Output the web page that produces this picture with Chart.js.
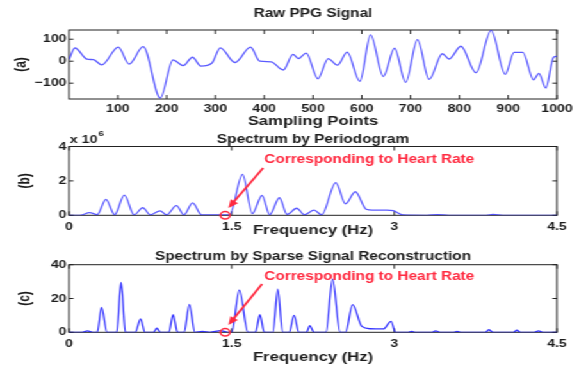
<!DOCTYPE html>
<html lang="en">
<head>
  <meta charset="UTF-8" />
  <title>Raw PPG Signal and Spectra</title>
  <script src="https://cdn.jsdelivr.net/npm/chart.js@4"></script>
  <style>
    body { margin: 0; background: #fff; }
    /* the figure is wider than it is tall-scaled, so draw narrow and stretch */
    #wrap { position: relative; width: 452px; height: 386px; transform: scaleX(1.281); transform-origin: 0 0; }
    #wrap canvas { position: absolute; left: 0; top: 0; }
  </style>
</head>
<body>
  <div id="wrap">
    <canvas id="ppgChart" width="452" height="386"></canvas>
    <canvas id="pgramChart" width="452" height="386"></canvas>
    <canvas id="sparseChart" width="452" height="386"></canvas>
  </div>

  <script>
    // (a) raw PPG signal, turning points
    const ppgIdx = [0, 12, 37, 50, 67, 101, 123, 152, 187, 213, 234, 253, 270, 293, 310, 340, 372, 391, 414, 439,
                    459, 470, 486, 510, 531, 550, 570, 596, 618, 644, 667, 690, 714, 738, 765, 779, 803, 834, 865, 894,
                    912, 930, 952, 963, 977, 993, 1000];
    const ppgVal = [8, 60, 9, 7, -17, 64, -13, 66, -168, 6, -20, 18, -22, -8, 61, -6, 64, 0, -3, -40,
                    31, 12, 37, -80, 12, -18, 41, -92, 120, -70, 59, -96, 98, -83, 34, 10, 68, -52, 140, -60,
                    40, 40, -85, -55, -122, 18, 22];
    const ppgXTicks = [100, 200, 300, 400, 500, 600, 700, 800, 900, 1000];
    const ppgYTicks = [-100, 0, 100];

    // (b) periodogram, in units of 10^6
    const pgramFreq = [0, 0.10, 0.19, 0.26, 0.34, 0.42, 0.51, 0.60, 0.68, 0.75, 0.84, 0.90, 0.99, 1.06, 1.14, 1.22,
                       1.37, 1.48, 1.60, 1.69, 1.78, 1.85, 1.94, 2.01, 2.10, 2.17, 2.26, 2.33, 2.46, 2.55, 2.64,
                       2.74, 2.80, 2.93, 2.99, 3.08, 3.30, 3.40, 3.50, 3.85, 3.91, 4.00, 4.50];
    const pgramPow = [0, 0, 0.15, 0.04, 0.93, 0.03, 1.17, 0.03, 0.44, 0.03, 0.26, 0.03, 0.56, 0.03, 0.72, 0.03,
                      0.02, 0.02, 2.38, 0.10, 1.15, 0.03, 1.02, 0.05, 0.41, 0.03, 0.30, 0.03, 1.90, 0.66, 1.37,
                      0.35, 0.30, 0.30, 0.27, 0.02, 0, 0.04, 0, 0, 0.05, 0, 0];
    const pgramYTicks = [0, 2, 4];

    // (c) sparse signal reconstruction
    const sparseFreq = [0, 0.12, 0.17, 0.22, 0.26, 0.30, 0.35, 0.44, 0.48, 0.52, 0.61, 0.66, 0.70, 0.78, 0.81, 0.84,
                        0.92, 0.96, 1.00, 1.06, 1.11, 1.16, 1.23, 1.30, 1.40, 1.46, 1.50, 1.57, 1.65, 1.72, 1.76,
                        1.80, 1.88, 1.925, 1.97, 2.03, 2.075, 2.12, 2.19, 2.22, 2.26, 2.37, 2.43, 2.50, 2.55, 2.615,
                        2.70, 2.78, 2.90, 2.97, 3.01, 3.13, 3.16, 3.19, 3.35, 3.38, 3.42, 3.55, 3.58, 3.61, 3.84,
                        3.87, 3.91, 4.10, 4.13, 4.16, 4.29, 4.33, 4.37, 4.50];
    const sparseAmp = [0, 0, 0.8, 0, 0, 14.8, 0, 0, 29.5, 0, 0, 8, 0, 0, 2.4, 0,
                       0, 10.5, 0, 0, 16.5, 0, 0.6, 0, 1, 0, 0, 25, 0, 0, 10.5,
                       0, 0, 25.5, 0, 0, 10, 0, 0, 4, 0, 0, 31.5, 0, 0, 16.4,
                       3.5, 2.1, 2, 6.5, 0, 0, 0.5, 0, 0, 0.9, 0, 0, 0.6, 0, 0,
                       1.5, 0, 0, 1.2, 0, 0, 0.8, 0, 0];
    const sparseYTicks = [0, 20, 40];

    const freqTicks = [0, 1.5, 3, 4.5];

    // heart-rate marker and its callouts (data units of each panel)
    const hrFreq = 1.44;
    const hrLabel = 'Corresponding to Heart Rate';
    const pgramNote = { from: [1.79, 2.75], to: [1.47, 0.42], text: [1.80, 3.21] };
    const sparseNote = { from: [1.78, 28.6], to: [1.47, 4.3], text: [1.80, 32.9] };

    const ink = '#1c1c1c';
    const red = '#ff2a40';
    Chart.defaults.font.family = '"Liberation Sans", Arial, sans-serif';

    const boxPlugin = {
      id: 'matlabBox',
      beforeDatasetsDraw(chart) {
        const { ctx, chartArea: a, scales: { x, y } } = chart;
        ctx.save();
        ctx.strokeStyle = '#222';
        ctx.lineWidth = 1;
        ctx.strokeRect(a.left, a.top, a.width, a.height);
        ctx.beginPath();
        x.ticks.forEach(t => {
          const px = x.getPixelForValue(t.value);
          ctx.moveTo(px, a.bottom); ctx.lineTo(px, a.bottom - 4);
          ctx.moveTo(px, a.top); ctx.lineTo(px, a.top + 4);
        });
        y.ticks.forEach(t => {
          const py = y.getPixelForValue(t.value);
          ctx.moveTo(a.left, py); ctx.lineTo(a.left + 3.5, py);
          ctx.moveTo(a.right, py); ctx.lineTo(a.right - 3.5, py);
        });
        ctx.stroke();
        ctx.restore();
      }
    };

    function notePlugin(note, exponent) {
      return {
        id: 'hrNote',
        afterDatasetsDraw(chart) {
          const { ctx, chartArea: a, scales: { x, y } } = chart;
          ctx.save();
          if (exponent) {
            ctx.fillStyle = ink;
            ctx.textBaseline = 'middle';
            ctx.font = 'bold 11px "Liberation Sans", Arial, sans-serif';
            ctx.fillText('x 10', a.left + 0.7, a.top - 6.5);
            const w = ctx.measureText('x 10').width;
            ctx.font = 'bold 8px "Liberation Sans", Arial, sans-serif';
            ctx.fillText(exponent, a.left + 1.5 + w, a.top - 13);
          }
          if (note) {
            ctx.strokeStyle = red;
            ctx.fillStyle = red;
            ctx.lineWidth = 1.5;
            ctx.beginPath();
            ctx.arc(x.getPixelForValue(hrFreq), y.getPixelForValue(0), 3.7, 0, Math.PI * 2);
            ctx.stroke();

            const x0 = x.getPixelForValue(note.from[0]), y0 = y.getPixelForValue(note.from[1]);
            const x1 = x.getPixelForValue(note.to[0]), y1 = y.getPixelForValue(note.to[1]);
            const ang = Math.atan2(y1 - y0, x1 - x0);
            const head = 9;
            ctx.lineWidth = 1.8;
            ctx.beginPath();
            ctx.moveTo(x0, y0);
            ctx.lineTo(x1 - head * 0.7 * Math.cos(ang), y1 - head * 0.7 * Math.sin(ang));
            ctx.stroke();
            ctx.beginPath();
            ctx.moveTo(x1, y1);
            ctx.lineTo(x1 - head * Math.cos(ang - 0.4), y1 - head * Math.sin(ang - 0.4));
            ctx.lineTo(x1 - head * Math.cos(ang + 0.4), y1 - head * Math.sin(ang + 0.4));
            ctx.closePath();
            ctx.fill();

            ctx.font = 'bold 12px "Liberation Sans", Arial, sans-serif';
            ctx.textBaseline = 'middle';
            ctx.fillText(hrLabel, x.getPixelForValue(note.text[0]), y.getPixelForValue(note.text[1]));
          }
          ctx.restore();
        }
      };
    }

    const fmt = v => (v < 0 ? '\u2212' + Math.abs(v) : String(v));

    function makePanel(id, p) {
      return new Chart(document.getElementById(id), {
        type: 'line',
        data: {
          datasets: [{
            data: p.xs.map((x, i) => ({ x: x, y: p.ys[i] })),
            borderColor: p.color,
            borderWidth: 1.3,
            pointRadius: 0,
            cubicInterpolationMode: 'monotone',
            fill: false
          }]
        },
        options: {
          responsive: false,
          animation: false,
          events: [],
          layout: { padding: { top: p.padTop, bottom: p.padBottom, left: 0, right: 17.2 } },
          plugins: {
            legend: { display: false },
            tooltip: { enabled: false },
            title: {
              display: true, text: p.title, fullSize: false, color: ink,
              font: { size: 12, weight: 'bold' },
              padding: p.titlePad
            }
          },
          scales: {
            x: {
              type: 'linear', min: p.xMin, max: p.xMax,
              grid: { display: false, drawTicks: false },
              border: { display: false },
              ticks: { color: ink, font: { size: 11, weight: 'bold' }, padding: p.xTickPad, maxRotation: 0, autoSkip: false, callback: fmt },
              afterBuildTicks: s => { s.ticks = p.xTicks.map(v => ({ value: v })); },
              afterFit: s => { s.height = p.xHeight; s.paddingLeft = 0; s.paddingRight = 0; },
              title: { display: true, text: p.xTitle, color: ink, font: { size: 13, weight: 'bold' }, padding: { top: 0, bottom: p.xTitlePad } }
            },
            y: {
              type: 'linear', min: p.yMin, max: p.yMax,
              grid: { display: false, drawTicks: false },
              border: { display: false },
              ticks: { color: ink, font: { size: 11, weight: 'bold' }, padding: 2, callback: fmt },
              afterBuildTicks: s => { s.ticks = p.yTicks.map(v => ({ value: v })); },
              afterFit: s => { s.width = 53.9; s.paddingTop = 0; s.paddingBottom = 0; },
              title: { display: true, text: p.yTitle, color: ink, font: { size: 12, weight: 'bold' }, padding: { top: p.yTitlePad, bottom: 0 } }
            }
          }
        },
        plugins: [boxPlugin, notePlugin(p.note, p.exponent)]
      });
    }

    makePanel('ppgChart', {
      xs: ppgIdx, ys: ppgVal, color: 'rgba(50,50,255,0.8)',
      title: 'Raw PPG Signal', xTitle: 'Sampling Points', yTitle: '(a)',
      xMin: 0, xMax: 1000, yMin: -172, yMax: 142, xTicks: ppgXTicks, yTicks: ppgYTicks,
      padTop: 0, padBottom: 256, titlePad: { top: 6.8, bottom: 8.8 },
      xHeight: 31, xTickPad: 3, xTitlePad: 0.5, yTitlePad: 9.2
    });

    makePanel('pgramChart', {
      xs: pgramFreq, ys: pgramPow, color: 'rgba(50,50,255,0.8)',
      title: 'Spectrum by Periodogram', xTitle: 'Frequency (Hz)', yTitle: '(b)',
      xMin: 0, xMax: 4.5, yMin: 0, yMax: 4, xTicks: freqTicks, yTicks: pgramYTicks,
      padTop: 120, padBottom: 146, titlePad: { top: 12.1, bottom: 0 },
      xHeight: 24.7, xTickPad: 5, xTitlePad: 1.7, yTitlePad: 12.3,
      note: pgramNote, exponent: '6'
    });

    makePanel('sparseChart', {
      xs: sparseFreq, ys: sparseAmp, color: 'rgba(30,30,255,0.9)',
      title: 'Spectrum by Sparse Signal Reconstruction', xTitle: 'Frequency (Hz)', yTitle: '(c)',
      xMin: 0, xMax: 4.5, yMin: 0, yMax: 40, xTicks: freqTicks, yTicks: sparseYTicks,
      padTop: 240, padBottom: 16, titlePad: { top: 9.5, bottom: 0.8 },
      xHeight: 37.7, xTickPad: 5, xTitlePad: 5.2, yTitlePad: 12.3,
      note: sparseNote
    });
  </script>
</body>
</html>
